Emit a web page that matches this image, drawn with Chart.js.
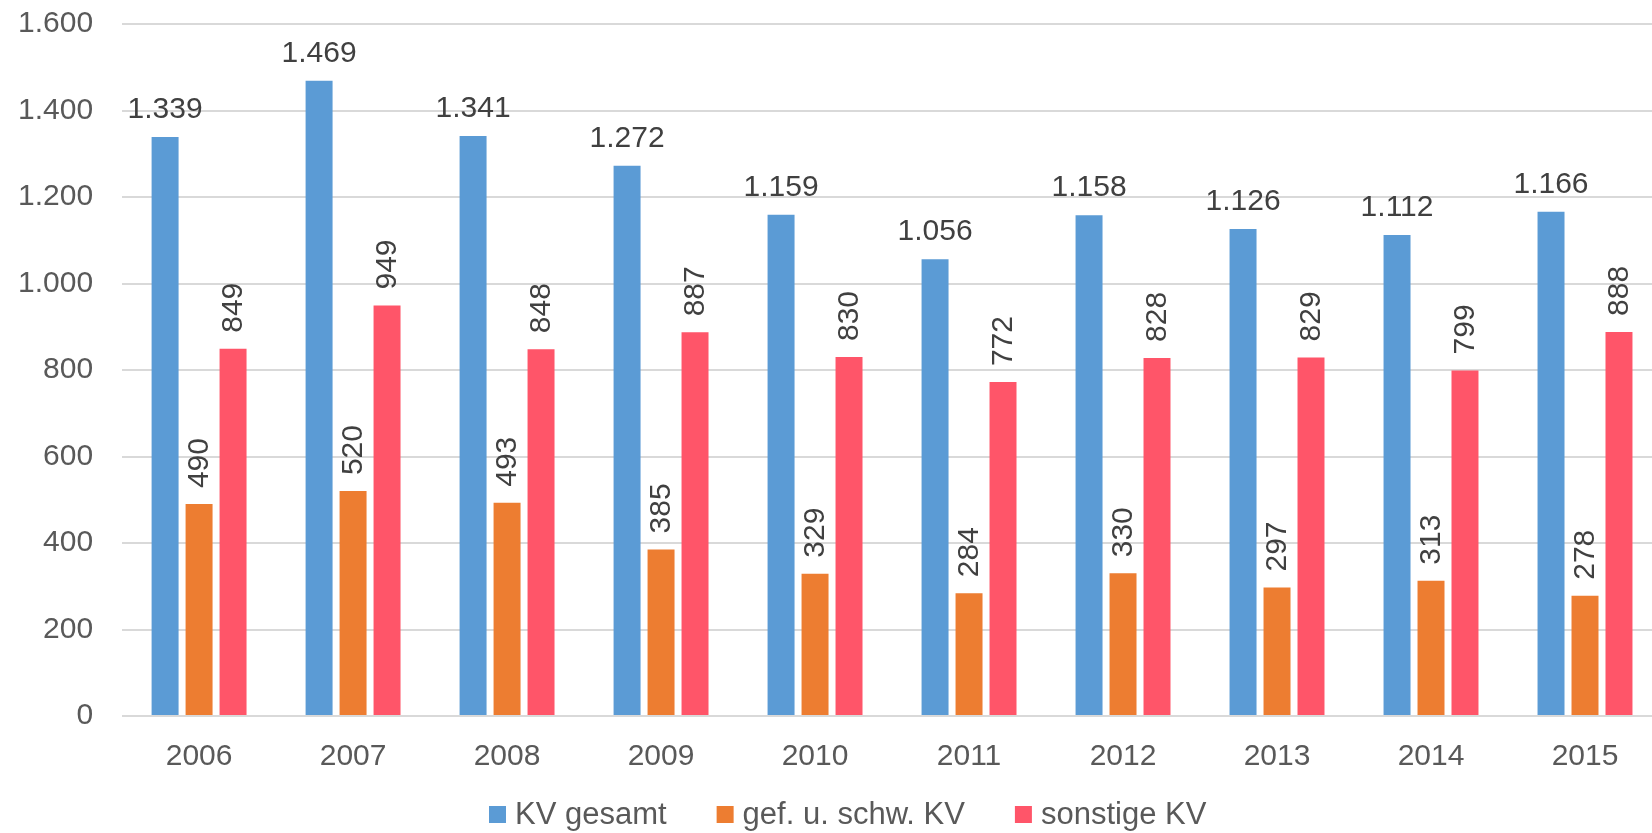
<!DOCTYPE html>
<html>
<head>
<meta charset="utf-8">
<script src="https://cdn.jsdelivr.net/npm/chart.js@4.4.1/dist/chart.umd.min.js"></script>
<style>
  html, body { margin: 0; padding: 0; background: #fff; overflow: hidden; }
  #wrap { width: 1662px; height: 833px; }
</style>
</head>
<body>
<div id="wrap"><canvas id="barChartID" width="1662" height="833"></canvas></div>
<script>
var years = ['2006', '2007', '2008', '2009', '2010', '2011', '2012', '2013', '2014', '2015'];
var kv_gesamt = [1339, 1469, 1341, 1272, 1159, 1056, 1158, 1126, 1112, 1166];
var kv_gef_schw = [490, 520, 493, 385, 329, 284, 330, 297, 313, 278];
var kv_sonstige = [849, 949, 848, 887, 830, 772, 828, 829, 799, 888];
var series_names = ['KV gesamt', 'gef. u. schw. KV', 'sonstige KV'];
var series_colors = ['#5B9BD5', '#ED7D31', '#FF5569'];

var font_family = '"Liberation Sans", Arial, Helvetica, sans-serif';

// german thousands separator: 1339 -> 1.339
function de_num(v) {
    return String(v).replace(/\B(?=(\d{3})+(?!\d))/g, '.');
}

var value_labels = {
    id: 'valueLabels',
    afterDatasetsDraw: function(chart) {
        var ctx = chart.ctx;
        ctx.save();
        ctx.fillStyle = '#404040';
        ctx.font = '30px ' + font_family;
        chart.data.datasets.forEach(function(ds, i) {
            var meta = chart.getDatasetMeta(i);
            meta.data.forEach(function(bar, j) {
                var txt = de_num(ds.data[j]);
                if (i === 0) {
                    // first series: horizontal label above the bar
                    ctx.textAlign = 'center';
                    ctx.textBaseline = 'alphabetic';
                    ctx.fillText(txt, bar.x, bar.y - 19);
                } else {
                    // other series: rotated, reading upwards
                    ctx.save();
                    ctx.translate(bar.x, bar.y - 16);
                    ctx.rotate(-Math.PI / 2);
                    ctx.textAlign = 'left';
                    ctx.textBaseline = 'middle';
                    ctx.fillText(txt, 0, 1);
                    ctx.restore();
                }
            });
        });
        ctx.restore();
    }
};

// legend drawn by hand so it can sit left of centre like the original
var bottom_legend = {
    id: 'bottomLegend',
    afterDraw: function(chart) {
        var ctx = chart.ctx;
        var x = 489;
        var yMid = 814;
        ctx.save();
        ctx.font = '31px ' + font_family;
        ctx.textBaseline = 'middle';
        ctx.textAlign = 'left';
        chart.data.datasets.forEach(function(ds) {
            ctx.fillStyle = ds.backgroundColor;
            ctx.fillRect(x, yMid - 8, 17, 17);
            x += 26;
            ctx.fillStyle = '#595959';
            ctx.fillText(ds.label, x, yMid + 1);
            x += ctx.measureText(ds.label).width + 50;
        });
        ctx.restore();
    }
};

var datasets = [kv_gesamt, kv_gef_schw, kv_sonstige].map(function(vals, i) {
    return {
        label: series_names[i],
        data: vals,
        backgroundColor: series_colors[i],
        borderWidth: 0,
        barPercentage: 0.794,
        categoryPercentage: 0.662
    };
});

var bar_chart_config = {
    type: 'bar',
    data: {
        labels: years,
        datasets: datasets
    },
    options: {
        responsive: false,
        animation: false,
        devicePixelRatio: 1,
        layout: {
            padding: { left: 18, right: 0, top: 24, bottom: 35 }
        },
        plugins: {
            legend: { display: false },
            tooltip: { enabled: false }
        },
        scales: {
            x: {
                grid: { display: false, drawTicks: false },
                border: { display: false },
                ticks: {
                    color: '#595959',
                    padding: 23,
                    font: { family: font_family, size: 30 }
                }
            },
            y: {
                min: 0,
                max: 1600,
                // invisible tick marks give the gap between labels and plot
                grid: { color: '#d9d9d9', lineWidth: 2, drawTicks: true, tickLength: 29, tickColor: 'rgba(0,0,0,0)' },
                border: { display: false },
                ticks: {
                    stepSize: 200,
                    color: '#595959',
                    padding: 0,
                    font: { family: font_family, size: 30 },
                    callback: function(v) { return de_num(v); }
                }
            }
        }
    },
    plugins: [value_labels, bottom_legend]
};

var barChart = new Chart(document.getElementById('barChartID'), bar_chart_config);
</script>
</body>
</html>
